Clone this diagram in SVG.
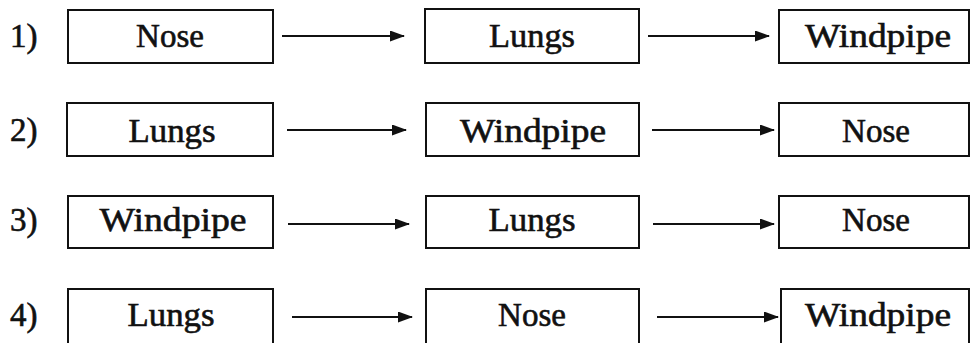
<svg xmlns="http://www.w3.org/2000/svg" width="970" height="343" viewBox="0 0 970 343">
<style>
.box{fill:#fff;stroke:#111;stroke-width:2}
.t{font-family:"Liberation Serif","Times New Roman",serif;font-size:33px;fill:#111;stroke:#111;stroke-width:0.6;text-anchor:middle}
.n{font-family:"Liberation Serif","Times New Roman",serif;font-size:33px;fill:#111;stroke:#111;stroke-width:0.6}
.c{stroke:#111;stroke-width:2;fill:none;marker-end:url(#ah)}
</style>
<defs>
<marker id="ah" viewBox="0 0 15 11" refX="14" refY="5.5" markerWidth="15" markerHeight="11" markerUnits="userSpaceOnUse" orient="auto">
<path d="M0,0 L15,5.5 L0,11 Z" fill="#111"/>
</marker>
</defs>
<g id="labels">
<text class="n" x="10" y="47">1)</text>
<text class="n" x="10" y="141">2)</text>
<text class="n" x="10" y="231">3)</text>
<text class="n" x="10" y="326">4)</text>
</g>
<g id="r1n1"><rect class="box" x="68" y="10" width="205" height="53"/><text class="t" x="170" y="47">Nose</text></g>
<g id="r1n2"><rect class="box" x="425" y="9" width="214" height="54"/><text class="t" x="532" y="47" textLength="86" lengthAdjust="spacingAndGlyphs">Lungs</text></g>
<g id="r1n3"><rect class="box" x="779" y="10" width="190" height="53"/><text class="t" x="878" y="47" textLength="146" lengthAdjust="spacingAndGlyphs">Windpipe</text></g>
<g id="r2n1"><rect class="box" x="67" y="103" width="206" height="53"/><text class="t" x="172" y="142" textLength="87" lengthAdjust="spacingAndGlyphs">Lungs</text></g>
<g id="r2n2"><rect class="box" x="426" y="103" width="213" height="53"/><text class="t" x="533" y="142" stroke-width="1.2" textLength="146" lengthAdjust="spacingAndGlyphs">Windpipe</text></g>
<g id="r2n3"><rect class="box" x="779" y="103" width="190" height="53"/><text class="t" x="876" y="142">Nose</text></g>
<g id="r3n1"><rect class="box" x="68" y="196" width="205" height="52"/><text class="t" x="173" y="231" textLength="147" lengthAdjust="spacingAndGlyphs">Windpipe</text></g>
<g id="r3n2"><rect class="box" x="426" y="196" width="213" height="52"/><text class="t" x="532" y="231" textLength="87" lengthAdjust="spacingAndGlyphs">Lungs</text></g>
<g id="r3n3"><rect class="box" x="779" y="196" width="190" height="52"/><text class="t" x="876" y="231">Nose</text></g>
<g id="r4n1"><rect class="box" x="68" y="289" width="205" height="55"/><text class="t" x="171" y="326" textLength="87" lengthAdjust="spacingAndGlyphs">Lungs</text></g>
<g id="r4n2"><rect class="box" x="426" y="289" width="213" height="55"/><text class="t" x="532" y="326">Nose</text></g>
<g id="r4n3"><rect class="box" x="781" y="289" width="188" height="55"/><text class="t" x="878" y="326" textLength="146" lengthAdjust="spacingAndGlyphs">Windpipe</text></g>
<g id="connectors">
<line class="c" x1="282" y1="36" x2="404" y2="36"/>
<line class="c" x1="648" y1="36" x2="769" y2="36"/>
<line class="c" x1="287" y1="130" x2="406" y2="130"/>
<line class="c" x1="652" y1="130" x2="774" y2="130"/>
<line class="c" x1="288" y1="224" x2="409" y2="224"/>
<line class="c" x1="653" y1="224" x2="774" y2="224"/>
<line class="c" x1="292" y1="317" x2="412" y2="317"/>
<line class="c" x1="657" y1="317" x2="778" y2="317"/>
</g>
</svg>
